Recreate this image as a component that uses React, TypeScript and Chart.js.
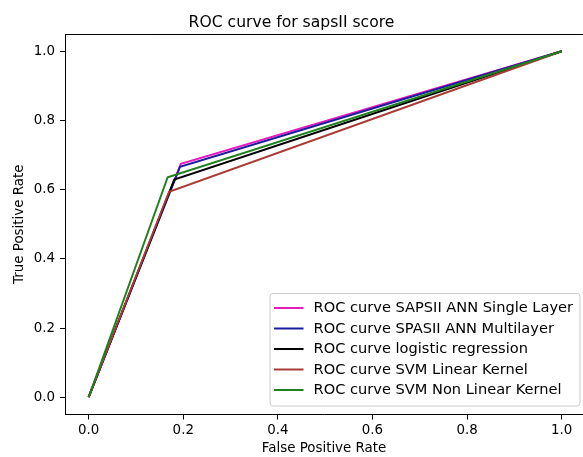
import React, { useEffect, useRef } from "react";
import { Chart, registerables } from "chart.js";

Chart.register(...registerables);

// ---- data ----
const seriesLabels = [
  "ROC curve SAPSII ANN Single Layer",
  "ROC curve SPASII ANN Multilayer",
  "ROC curve logistic regression",
  "ROC curve SVM Linear Kernel",
  "ROC curve SVM Non Linear Kernel",
];
const seriesColors = ["#e41cc0", "#1c1c9e", "#000000", "#a83c36", "#1f801f"];

const fprAnnSingle = [0, 0.195, 1];
const tprAnnSingle = [0, 0.675, 1];
const fprAnnMulti = [0, 0.193, 1];
const tprAnnMulti = [0, 0.666, 1];
const fprLogReg = [0, 0.181, 1];
const tprLogReg = [0, 0.629, 1];
const fprSvmLinear = [0, 0.17, 1];
const tprSvmLinear = [0, 0.594, 1];
const fprSvmNonLinear = [0, 0.167, 1];
const tprSvmNonLinear = [0, 0.636, 1];

const xTickValues = [0, 0.2, 0.4, 0.6, 0.8, 1.0];
const yTickValues = [0, 0.2, 0.4, 0.6, 0.8, 1.0];

const chartTitle = "ROC curve for sapsII score";
const xAxisTitle = "False Positive Rate";
const yAxisTitle = "True Positive Rate";

const FONT = '"DejaVu Sans", sans-serif';

const toPoints = (xs: number[], ys: number[]) => xs.map((x, i) => ({ x, y: ys[i] }));

const framePlugin = {
  id: "mplFrame",
  afterDraw(chart: any) {
    const { ctx, chartArea } = chart;
    ctx.save();
    ctx.strokeStyle = "#000";
    ctx.lineWidth = 1;
    ctx.beginPath();
    ctx.moveTo(chartArea.left, chartArea.top + 0.5);
    ctx.lineTo(chartArea.right, chartArea.top + 0.5);
    ctx.stroke();
    ctx.restore();
  },
};

const legendPlugin = {
  id: "mplLegend",
  afterDraw(chart: any) {
    const ctx = chart.ctx;
    const fs = 14.6;
    const datasets = chart.data.datasets;
    ctx.save();
    ctx.font = `${fs}px ${FONT}`;
    const maxW = Math.max(...datasets.map((d: any) => ctx.measureText(d.label).width));
    const boxRight = 580;
    const boxBottom = 406;
    const rowPitch = 20.5;
    const boxH = 15 + (datasets.length - 1) * rowPitch + 16;
    const boxW = 44 + maxW + 7;
    const left = boxRight - boxW;
    const top = boxBottom - boxH;
    ctx.beginPath();
    const r = 3;
    ctx.moveTo(left + r, top + 0.5);
    ctx.arcTo(left + boxW, top + 0.5, left + boxW, top + boxH, r);
    ctx.arcTo(left + boxW, top + boxH, left, top + boxH, r);
    ctx.arcTo(left + 0.5, top + boxH, left + 0.5, top, r);
    ctx.arcTo(left + 0.5, top + 0.5, left + boxW, top + 0.5, r);
    ctx.closePath();
    ctx.fillStyle = "rgba(255,255,255,0.8)";
    ctx.fill();
    ctx.strokeStyle = "#cccccc";
    ctx.lineWidth = 1;
    ctx.stroke();
    datasets.forEach((d: any, i: number) => {
      const y = top + 15 + i * rowPitch;
      ctx.strokeStyle = d.borderColor;
      ctx.lineWidth = 2;
      ctx.beginPath();
      ctx.moveTo(left + 4.5, y);
      ctx.lineTo(left + 34, y);
      ctx.stroke();
      ctx.fillStyle = "#000";
      ctx.textBaseline = "middle";
      ctx.textAlign = "left";
      ctx.fillText(d.label, left + 44, y + 0.5);
    });
    ctx.restore();
  },
};

export default function App() {
  const canvasRef = useRef<HTMLCanvasElement | null>(null);

  useEffect(() => {
    if (!canvasRef.current) return;
    const series = [
      toPoints(fprAnnSingle, tprAnnSingle),
      toPoints(fprAnnMulti, tprAnnMulti),
      toPoints(fprLogReg, tprLogReg),
      toPoints(fprSvmLinear, tprSvmLinear),
      toPoints(fprSvmNonLinear, tprSvmNonLinear),
    ];
    const n = series.length;
    const chart = new Chart(canvasRef.current, {
      type: "line",
      data: {
        datasets: series.map((pts, i) => ({
          label: seriesLabels[i],
          data: pts,
          borderColor: seriesColors[i],
          backgroundColor: seriesColors[i],
          borderWidth: 2,
          pointRadius: 0,
          tension: 0,
          fill: false,
          order: n - 1 - i,
        })),
      },
      options: {
        responsive: false,
        animation: false,
        devicePixelRatio: 1,
        layout: { padding: 0 },
        plugins: {
          legend: { display: false },
          tooltip: { enabled: false },
          title: {
            display: true,
            text: chartTitle,
            color: "#000",
            font: { family: FONT, size: 15.6, weight: "normal", lineHeight: 1.2 },
            padding: { top: 13.5, bottom: 1.8 },
          },
        },
        scales: {
          x: {
            type: "linear",
            min: -0.05,
            max: 1.045,
            afterBuildTicks: (scale: any) => {
              scale.ticks = xTickValues.map((v) => ({ value: v }));
            },
            ticks: {
              color: "#000",
              font: { family: FONT, size: 13.4, lineHeight: 1.2 },
              padding: 3,
              maxRotation: 0,
              minRotation: 0,
              autoSkip: false,
              callback: (v: any) => Number(v).toFixed(1),
            },
            grid: {
              display: true,
              drawOnChartArea: false,
              drawTicks: true,
              tickLength: 5,
              tickColor: "#000",
            },
            border: { display: true, color: "#000", width: 1 },
            title: {
              display: true,
              text: xAxisTitle,
              color: "#000",
              font: { family: FONT, size: 13.4, lineHeight: 1.0 },
              padding: { top: 0, bottom: 2 },
            },
          },
          y: {
            type: "linear",
            min: -0.05,
            max: 1.05,
            afterFit: (scale: any) => {
              scale.width = 65;
            },
            afterBuildTicks: (scale: any) => {
              scale.ticks = yTickValues.map((v) => ({ value: v }));
            },
            ticks: {
              color: "#000",
              font: { family: FONT, size: 13.4 },
              padding: 5,
              autoSkip: false,
              callback: (v: any) => Number(v).toFixed(1),
            },
            grid: {
              display: true,
              drawOnChartArea: false,
              drawTicks: true,
              tickLength: 5,
              tickColor: "#000",
            },
            border: { display: true, color: "#000", width: 1 },
            title: {
              display: true,
              text: yAxisTitle,
              color: "#000",
              font: { family: FONT, size: 13.4 },
              padding: { top: 11, bottom: 0 },
            },
          },
        },
      },
      plugins: [framePlugin, legendPlugin],
    } as any);
    return () => chart.destroy();
  }, []);

  return (
    <div style={{ position: "absolute", left: 0, top: 0, width: 583, height: 457, background: "#fff" }}>
      <canvas ref={canvasRef} width={583} height={457} style={{ display: "block" }} />
    </div>
  );
}
